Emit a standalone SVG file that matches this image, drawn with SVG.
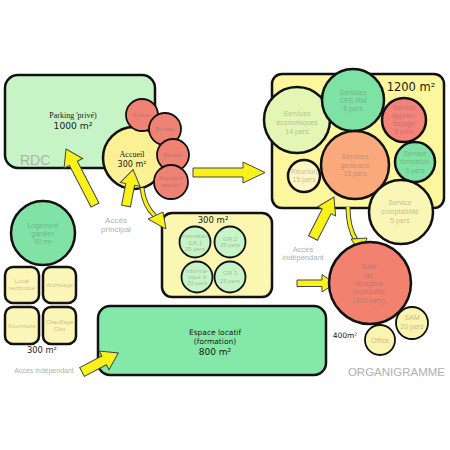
<svg xmlns="http://www.w3.org/2000/svg" width="450" height="450" viewBox="0 0 450 450">
<defs>
<style>
.bx{stroke:#111;stroke-width:2.5}
.c{stroke:#111;stroke-width:2.5}
.c2{stroke:#111;stroke-width:1.8}
.t{font-family:"Liberation Sans",Arial,sans-serif;font-size:7px;fill:#666;fill-opacity:.42;text-anchor:middle}
.s{font-family:"Liberation Sans",Arial,sans-serif;font-size:6px;fill:#666;fill-opacity:.42;text-anchor:middle}
.m{font-family:"DejaVu Sans",Verdana,sans-serif;fill:#1a1a1a;text-anchor:middle}
.sf{font-family:"Liberation Serif","Times New Roman",serif;font-size:8px;fill:#1a1a1a;text-anchor:middle}
.g{font-family:"Liberation Sans",Arial,sans-serif;fill:#b0b0b0}
.ar{fill:#f8f21a;stroke:#444;stroke-width:1;stroke-linejoin:miter}
.cv{fill:none;stroke:#444;stroke-width:5;stroke-linecap:butt}
.cvi{fill:none;stroke:#f8f21a;stroke-width:3;stroke-linecap:butt}
</style>
</defs>
<rect width="450" height="450" fill="#fff"/>

<g id="parking">
<rect class="bx" x="5" y="75" width="150" height="93" rx="13" fill="#c6f4c6"/>
<text class="sf" x="73" y="118">Parking 'privé)</text>
<text class="m" x="73" y="129" font-size="9.2">1000 m²</text>
<text class="g" x="20" y="165" font-size="14">RDC</text>
</g>

<g id="accueil">
<circle class="c" cx="134" cy="158" r="31" fill="#fbf194"/>
<text class="sf" x="132" y="157">Accueil</text>
<text class="m" x="132" y="167" font-size="8">300 m²</text>
</g>
<g id="bureau1"><circle class="c2" cx="142" cy="115" r="16" fill="#f08274"/><text class="s" x="142" y="117">Bureau</text></g>
<g id="bureau2"><circle class="c2" cx="165" cy="129" r="16" fill="#f08274"/><text class="s" x="165" y="131">Bureau</text></g>
<g id="bureau3"><circle class="c2" cx="173" cy="155" r="16" fill="#f08274"/><text class="s" x="173" y="157">Bureau</text></g>
<g id="standard"><circle class="c2" cx="171" cy="182" r="17" fill="#f08274"/><text class="s" x="171" y="180">Standard</text><text class="s" x="171" y="187">accueil</text></g>

<g id="pole-1200">
<rect class="bx" x="272" y="74" width="172" height="134" rx="10" fill="#fcf69d"/>
<text class="m" x="411" y="91" font-size="11.5">1200 m²</text>
</g>
<g id="economiques"><circle class="c" cx="297" cy="120" r="33" fill="#e4f6b4"/><text class="t" x="297" y="116">Services</text><text class="t" x="297" y="125">économiques</text><text class="t" x="297" y="134">14 pers</text></g>
<g id="cfe-rm"><circle class="c" cx="353" cy="100" r="31" fill="#7ee2a4"/><text class="t" x="353" y="95">Services</text><text class="t" x="353" y="103">CFE-RM</text><text class="t" x="353" y="111">8 pers</text></g>
<g id="apprentissage"><circle class="c" cx="404" cy="120" r="22" fill="#f4837a"/><text class="t" x="404" y="110">Service</text><text class="t" x="404" y="118">appren-</text><text class="t" x="404" y="126">tissage</text><text class="t" x="404" y="134">5 pers</text></g>
<g id="generaux"><circle class="c" cx="355" cy="165" r="34" fill="#f9a97c"/><text class="t" x="355" y="159">Services</text><text class="t" x="355" y="168">généraux</text><text class="t" x="355" y="176">15 pers</text></g>
<g id="formation"><circle class="c" cx="415" cy="162" r="20" fill="#7ee2a4"/><text class="t" x="415" y="156">Service</text><text class="t" x="415" y="164">formation</text><text class="t" x="415" y="173">3 pers</text></g>
<g id="reunion"><circle class="c" cx="304" cy="176" r="16" fill="#fdf6c4"/><text class="t" x="304" y="174">Réunion</text><text class="t" x="304" y="182">15 pers</text></g>
<g id="comptabilite"><circle class="c" cx="401" cy="212" r="32" fill="#f9f6b6"/><text class="t" x="400" y="205">Service</text><text class="t" x="400" y="214">comptabilité</text><text class="t" x="400" y="223">5 pers</text></g>

<g id="logement"><circle class="c" cx="43" cy="233" r="32" fill="#80e2a4"/><text class="t" x="43" y="228" font-size="8.5">Logement</text><text class="t" x="43" y="236" font-size="8.5">gardien</text><text class="t" x="43" y="244" font-size="8.5">90 m²</text></g>
<g id="local-technique"><rect class="bx" x="5" y="267" width="34" height="36" rx="8" fill="#fbf6b8"/><text class="s" x="22" y="283">Local</text><text class="s" x="22" y="290">technique</text></g>
<g id="archivage"><rect class="bx" x="43" y="267" width="33" height="36" rx="8" fill="#fbf6b8"/><text class="s" x="59.5" y="287">Archivage</text></g>
<g id="fourniture"><rect class="bx" x="5" y="307" width="34" height="37" rx="8" fill="#fbf6b8"/><text class="s" x="22" y="328">Fourniture</text></g>
<g id="chauffage"><rect class="bx" x="43" y="307" width="33" height="37" rx="8" fill="#fbf6b8"/><text class="s" x="59.5" y="324">Chauffage</text><text class="s" x="59.5" y="331">Clim</text></g>
<text class="m" x="42" y="353" font-size="8.3">300 m²</text>

<g id="formation-300">
<rect class="bx" x="162" y="213" width="110" height="84" rx="10" fill="#fbf6b0"/>
<text class="m" x="213" y="223" font-size="8.5">300 m²</text>
</g>
<g id="gr1"><circle class="c2" cx="195" cy="242" r="15.5" fill="#c6f4c6"/><text class="s" x="195" y="238">Formation</text><text class="s" x="195" y="245">GR 1</text><text class="s" x="195" y="251">25 pers</text></g>
<g id="gr2"><circle class="c2" cx="230" cy="242" r="15.5" fill="#c6f4c6"/><text class="s" x="230" y="241">GR 2</text><text class="s" x="230" y="247">25 pers</text></g>
<g id="informatique"><circle class="c2" cx="197" cy="277" r="15.5" fill="#c6f4c6"/><text class="s" x="197" y="273">Informa-</text><text class="s" x="197" y="279">tique 4</text><text class="s" x="197" y="285">20 pers</text></g>
<g id="gr3"><circle class="c2" cx="230" cy="277" r="15.5" fill="#c6f4c6"/><text class="s" x="230" y="275">GR 3</text><text class="s" x="230" y="283">25 pers</text></g>

<g id="espace-locatif">
<rect class="bx" x="98" y="306" width="228" height="69" rx="12" fill="#84e8a8"/>
<text class="m" x="215" y="335" font-size="7.5">Espace locatif</text>
<text class="m" x="215" y="344" font-size="7.5">(formation)</text>
<text class="m" x="215" y="355" font-size="9">800 m²</text>
</g>

<g id="connectors">
<polygon class="ar" transform="translate(95,205) rotate(-117.4)" points="0,-4.5 47,-4.5 47,-10.5 63,0 47,10.5 47,4.5 0,4.5"/>
<polygon class="ar" transform="translate(126,206) rotate(-79)" points="0,-4.5 22,-4.5 22,-10 37,0 22,10 22,4.5 0,4.5"/>
<polygon class="ar" points="193,168 243,168 243,162 265,172.5 243,183 243,177 193,177"/>
<polygon class="ar" transform="translate(313,238) rotate(-62.9)" points="0,-5 30,-5 30,-10 46,0 30,10 30,5 0,5"/>
<polygon class="ar" points="297,280 322,280 322,274.5 335,283.5 322,292 322,286.5 297,286.5"/>
<polygon class="ar" transform="translate(82,372) rotate(-27.8)" points="0,-5 25,-5 25,-10.5 41,0 25,10.5 25,5 0,5"/>
<path class="cv" d="M142,188 Q144,206 155,216"/>
<path class="cvi" d="M142,188 Q144,206 155,216"/>
<polygon class="ar" points="148,219 163,212 166,229"/>
<path class="cv" d="M348,207 Q348,228 356,240"/>
<path class="cvi" d="M348,207 Q348,228 356,240"/>
<polygon class="ar" points="351,239 367,238 362,255"/>
</g>

<g id="salle"><circle class="c" cx="370" cy="283" r="41" fill="#f2826f"/><text class="t" x="369" y="269">Salle</text><text class="t" x="369" y="278">de</text><text class="t" x="369" y="286">réception</text><text class="t" x="369" y="294">modulable</text><text class="t" x="369" y="303">(300 pers)</text></g>
<g id="sam"><circle class="c2" cx="412" cy="323" r="16" fill="#fbf4ae"/><text class="t" x="412" y="320">SAM</text><text class="t" x="412" y="329">20 pers</text></g>
<g id="office"><circle class="c2" cx="380" cy="340" r="15" fill="#fbf4ae"/><text class="t" x="380" y="343">Office</text></g>
<text class="m" x="345" y="338" font-size="7.5">400m²</text>

<text class="g" x="116" y="223" font-size="8" text-anchor="middle">Accès</text>
<text class="g" x="116" y="232" font-size="8" text-anchor="middle">principal</text>
<text class="g" x="303" y="252" font-size="7.5" text-anchor="middle">Accès</text>
<text class="g" x="303" y="260" font-size="7.5" text-anchor="middle">indépendant</text>
<text class="g" x="44" y="373" font-size="7" text-anchor="middle">Accès indépendant</text>
<text class="g" x="445" y="376" font-size="11.5" text-anchor="end">ORGANIGRAMME</text>
</svg>
